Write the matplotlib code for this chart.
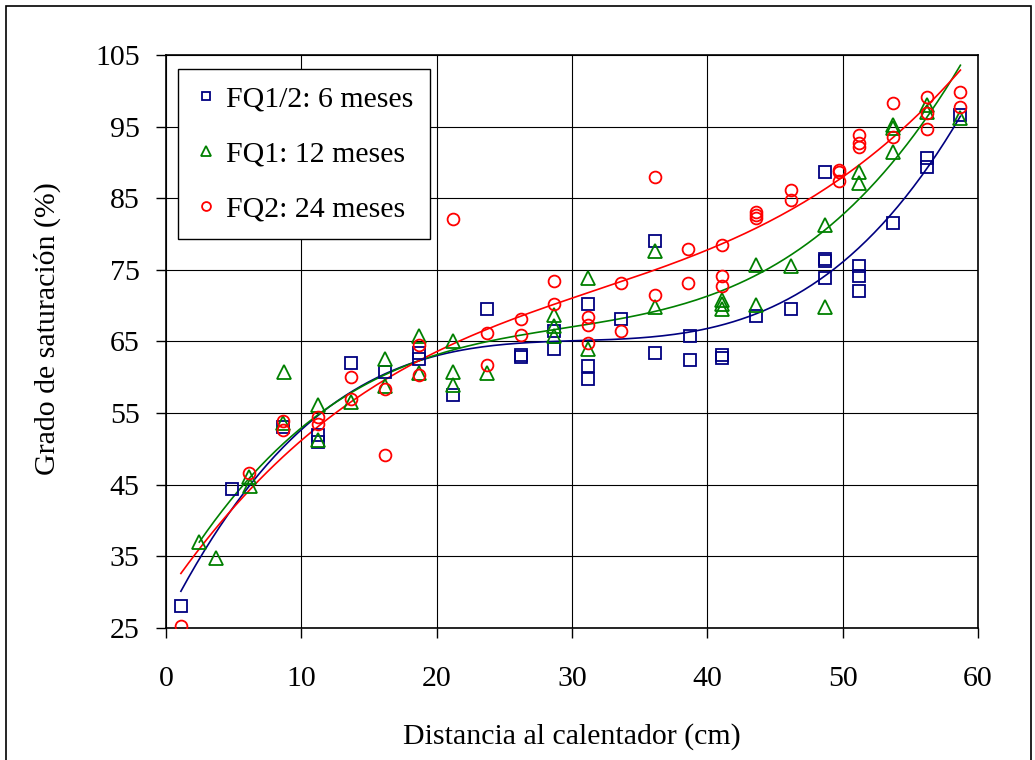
import numpy as np
import matplotlib.pyplot as plt
from matplotlib.patches import Rectangle

### Data
# FQ1/2: 6 meses (blue squares)
x_6m = [1.1, 4.9, 8.65, 11.2, 11.2, 13.65, 16.2, 18.7, 18.7, 21.2, 23.7, 26.2, 26.2,
        28.7, 28.7, 31.2, 31.2, 31.2, 33.6, 36.1, 36.1, 38.7, 38.7, 41.1, 41.1, 43.6,
        46.2, 48.7, 48.7, 48.7, 48.7, 51.2, 51.2, 51.2, 53.7, 56.2, 56.2, 58.7]
y_6m = [28.1, 44.4, 53.1, 52.0, 51.0, 62.0, 60.7, 63.4, 62.5, 57.5, 69.5, 63.1, 62.8,
        66.5, 63.9, 70.3, 61.6, 59.7, 68.2, 79.0, 63.4, 65.8, 62.4, 63.1, 62.7, 68.6,
        69.5, 88.7, 76.5, 76.2, 73.9, 75.6, 74.1, 72.0, 81.6, 90.6, 89.3, 96.6]

# FQ1: 12 meses (green triangles)
x_12m = [2.46, 3.67, 6.1, 6.2, 8.65, 8.7, 11.2, 11.2, 13.65, 16.2, 16.2, 18.7, 18.7,
         21.2, 21.2, 21.2, 23.7, 28.7, 28.7, 28.7, 31.2, 31.2, 36.1, 36.1, 41.1, 41.1,
         41.1, 43.6, 43.6, 46.2, 48.7, 48.7, 51.2, 51.2, 53.7, 53.7, 53.7, 56.2, 56.2, 58.7]
y_12m = [37.0, 34.8, 46.1, 44.8, 53.6, 60.7, 56.1, 51.3, 56.6, 62.5, 58.8, 65.7, 60.6,
         65.1, 60.7, 58.9, 60.6, 68.7, 67.1, 65.7, 73.8, 63.9, 77.6, 69.8, 70.8, 70.2,
         69.6, 75.7, 70.1, 75.5, 81.3, 69.8, 88.6, 87.1, 95.2, 94.8, 91.4, 98.0, 97.0, 96.2]

# FQ2: 24 meses (red circles)
x_24m = [1.1, 6.1, 8.65, 8.65, 11.2, 11.2, 13.65, 13.65, 16.2, 16.2, 18.7, 18.7, 21.2,
         23.7, 23.7, 26.2, 26.2, 28.7, 28.7, 31.2, 31.2, 31.2, 33.6, 33.6, 36.1, 36.1,
         38.6, 38.6, 41.1, 41.1, 41.1, 43.6, 43.6, 43.6, 46.2, 46.2, 49.7, 49.7, 49.7,
         51.2, 51.2, 51.2, 53.7, 53.7, 56.2, 56.2, 56.2, 58.7, 58.7]
y_24m = [25.3, 46.6, 53.9, 52.6, 54.4, 53.5, 60.0, 57.0, 58.3, 49.1, 64.5, 60.3, 82.1,
         66.2, 61.7, 68.2, 65.9, 73.5, 70.2, 68.4, 67.3, 64.8, 73.1, 66.5, 88.0, 71.5,
         77.9, 73.1, 78.5, 74.1, 72.8, 83.1, 82.7, 82.2, 86.1, 84.7, 89.0, 88.6, 87.4,
         93.8, 92.7, 92.2, 98.3, 93.6, 99.2, 96.9, 94.6, 99.8, 97.8]

series = [
    (x_6m, y_6m, 's', '#000080', 'FQ1/2: 6 meses'),
    (x_12m, y_12m, '^', '#008000', 'FQ1: 12 meses'),
    (x_24m, y_24m, 'o', '#FF0000', 'FQ2: 24 meses'),
]

plt.rcParams['font.family'] = 'Liberation Serif'

fig = plt.figure(figsize=(10.35, 7.6), dpi=100)
ax = fig.add_axes([166/1035, 1-628/760, 812/1035, 573/760])

for xs, ys, mk, col, lab in series:
    xs = np.array(xs)
    ys = np.array(ys)
    ax.plot(xs, ys, linestyle='none', marker=mk, markersize=8.5 if mk != '^' else 9.5,
            markerfacecolor='none', markeredgecolor=col, markeredgewidth=1.3, label=lab,
            zorder=3)
    # polynomial trend line (3rd order, over the data range)
    coef = np.polyfit(xs, ys, 3)
    xx = np.linspace(xs.min(), xs.max(), 200)
    ax.plot(xx, np.polyval(coef, xx), color=col, linewidth=1.2, zorder=2)

ax.set_xlim(0, 60)
ax.set_ylim(25, 105)
ax.set_xticks(range(0, 61, 10))
ax.set_yticks(range(25, 106, 10))
ax.grid(True, color='black', linewidth=0.8)
ax.set_axisbelow(True)
ax.tick_params(direction='out', length=7, width=1, labelsize=21.5, colors='black')
ax.tick_params(axis='x', pad=20)
ax.tick_params(axis='y', pad=12)
for sp in ax.spines.values():
    sp.set_linewidth(1.2)
    sp.set_color('black')

fig.text(572/1035, 1-737/760, 'Distancia al calentador (cm)', fontsize=21.5,
         ha='center', va='center')
fig.text(47/1035, 1-329/760, 'Grado de saturación (%)', fontsize=21.5,
         ha='center', va='center', rotation=90)

leg = ax.legend(loc='upper left', bbox_to_anchor=(12/812, 1-14/573), fontsize=21.5,
                frameon=True, fancybox=False, edgecolor='black', framealpha=1,
                markerscale=0.75, handlelength=0.8, handletextpad=0.25,
                labelspacing=0.95, borderpad=0.55, borderaxespad=0)
leg.get_frame().set_linewidth(1.0)

# outer chart border
fig.patches.append(Rectangle((6/1035, -0.01), 1025/1035, 1.01 - 6/760, transform=fig.transFigure,
                             fill=False, edgecolor='black', linewidth=1.2))

plt.savefig('out.png', dpi=100)
